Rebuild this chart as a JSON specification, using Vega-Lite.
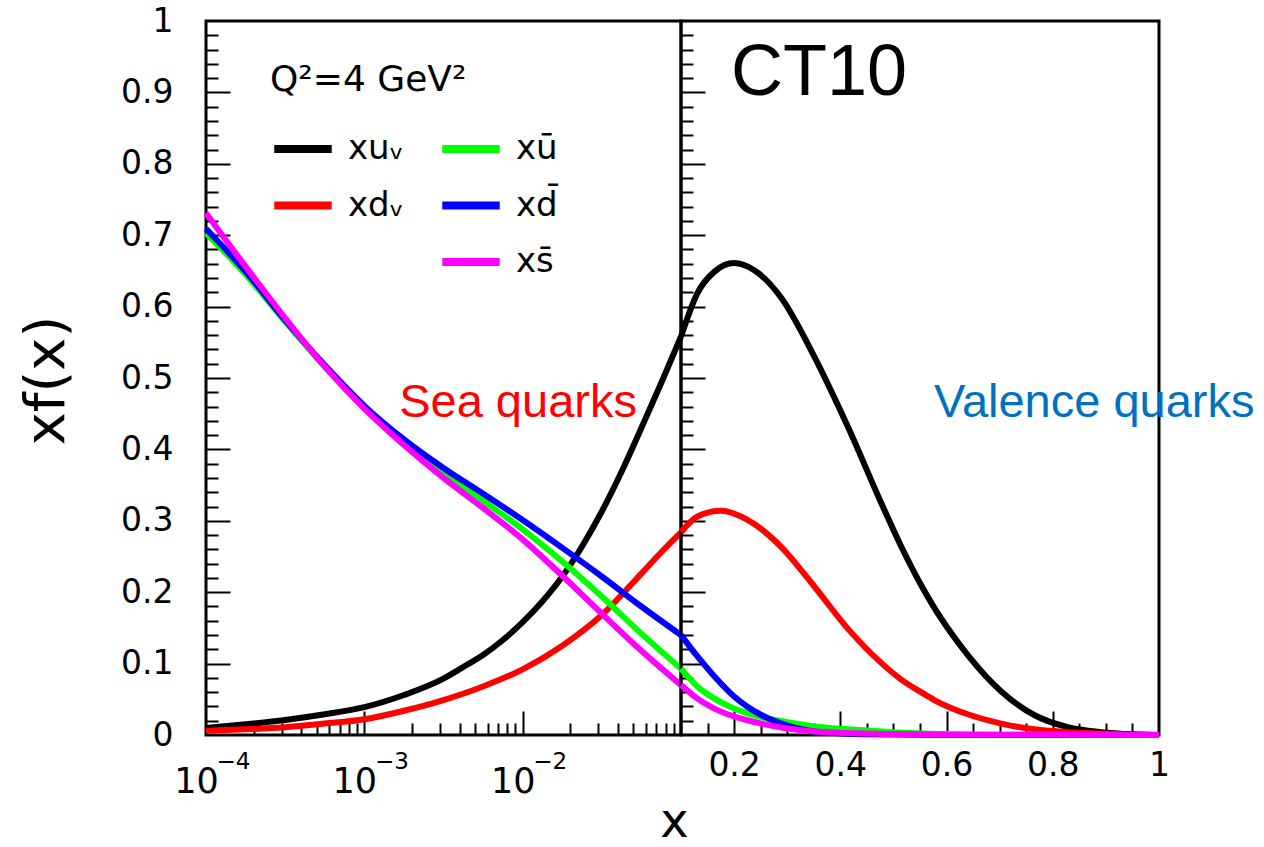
{
  "$schema": "https://vega.github.io/schema/vega-lite/v6.json",
  "background": "white",
  "padding": {"left": 16, "top": 3, "right": 0, "bottom": 0},
  "autosize": {"type": "pad"},
  "config": {
    "view": {"stroke": "#000000", "strokeWidth": 3},
    "font": "DejaVu Sans",
    "axis": {"grid": false, "domain": false, "labelColor": "#000000", "tickColor": "#000000", "titleColor": "#000000", "labelFont": "DejaVu Sans", "titleFont": "DejaVu Sans", "labelFlush": false, "labelOverlap": false, "labelAngle": 0, "tickWidth": 2}
  },
  "datasets": {
    "pdf": [
      {"parton": "xuᵥ", "x": 0.0001, "xf": 0.010},
      {"parton": "xuᵥ", "x": 0.000178, "xf": 0.015},
      {"parton": "xuᵥ", "x": 0.000316, "xf": 0.021},
      {"parton": "xuᵥ", "x": 0.000562, "xf": 0.029},
      {"parton": "xuᵥ", "x": 0.001, "xf": 0.039},
      {"parton": "xuᵥ", "x": 0.00178, "xf": 0.056},
      {"parton": "xuᵥ", "x": 0.00316, "xf": 0.079},
      {"parton": "xuᵥ", "x": 0.0042, "xf": 0.095},
      {"parton": "xuᵥ", "x": 0.00562, "xf": 0.112},
      {"parton": "xuᵥ", "x": 0.0075, "xf": 0.133},
      {"parton": "xuᵥ", "x": 0.01, "xf": 0.158},
      {"parton": "xuᵥ", "x": 0.0133, "xf": 0.187},
      {"parton": "xuᵥ", "x": 0.0178, "xf": 0.222},
      {"parton": "xuᵥ", "x": 0.0237, "xf": 0.264},
      {"parton": "xuᵥ", "x": 0.0316, "xf": 0.313},
      {"parton": "xuᵥ", "x": 0.0422, "xf": 0.369},
      {"parton": "xuᵥ", "x": 0.0562, "xf": 0.430},
      {"parton": "xuᵥ", "x": 0.075, "xf": 0.493},
      {"parton": "xuᵥ", "x": 0.1, "xf": 0.558},
      {"parton": "xuᵥ", "x": 0.131, "xf": 0.619},
      {"parton": "xuᵥ", "x": 0.163, "xf": 0.649},
      {"parton": "xuᵥ", "x": 0.2, "xf": 0.661},
      {"parton": "xuᵥ", "x": 0.238, "xf": 0.651},
      {"parton": "xuᵥ", "x": 0.288, "xf": 0.613},
      {"parton": "xuᵥ", "x": 0.351, "xf": 0.530},
      {"parton": "xuᵥ", "x": 0.414, "xf": 0.432},
      {"parton": "xuᵥ", "x": 0.477, "xf": 0.325},
      {"parton": "xuᵥ", "x": 0.514, "xf": 0.265},
      {"parton": "xuᵥ", "x": 0.552, "xf": 0.210},
      {"parton": "xuᵥ", "x": 0.577, "xf": 0.178},
      {"parton": "xuᵥ", "x": 0.6, "xf": 0.152},
      {"parton": "xuᵥ", "x": 0.64, "xf": 0.112},
      {"parton": "xuᵥ", "x": 0.703, "xf": 0.061},
      {"parton": "xuᵥ", "x": 0.765, "xf": 0.028},
      {"parton": "xuᵥ", "x": 0.828, "xf": 0.011},
      {"parton": "xuᵥ", "x": 0.891, "xf": 0.004},
      {"parton": "xuᵥ", "x": 0.953, "xf": 0.001},
      {"parton": "xuᵥ", "x": 1, "xf": 0},
      {"parton": "xdᵥ", "x": 0.0001, "xf": 0.006},
      {"parton": "xdᵥ", "x": 0.000178, "xf": 0.008},
      {"parton": "xdᵥ", "x": 0.000316, "xf": 0.011},
      {"parton": "xdᵥ", "x": 0.000562, "xf": 0.016},
      {"parton": "xdᵥ", "x": 0.001, "xf": 0.022},
      {"parton": "xdᵥ", "x": 0.00178, "xf": 0.034},
      {"parton": "xdᵥ", "x": 0.00316, "xf": 0.049},
      {"parton": "xdᵥ", "x": 0.00562, "xf": 0.068},
      {"parton": "xdᵥ", "x": 0.01, "xf": 0.092},
      {"parton": "xdᵥ", "x": 0.0178, "xf": 0.125},
      {"parton": "xdᵥ", "x": 0.0316, "xf": 0.168},
      {"parton": "xdᵥ", "x": 0.0562, "xf": 0.226},
      {"parton": "xdᵥ", "x": 0.075, "xf": 0.256},
      {"parton": "xdᵥ", "x": 0.1, "xf": 0.284},
      {"parton": "xdᵥ", "x": 0.131, "xf": 0.306},
      {"parton": "xdᵥ", "x": 0.175, "xf": 0.314},
      {"parton": "xdᵥ", "x": 0.226, "xf": 0.301},
      {"parton": "xdᵥ", "x": 0.288, "xf": 0.264},
      {"parton": "xdᵥ", "x": 0.351, "xf": 0.208},
      {"parton": "xdᵥ", "x": 0.414, "xf": 0.149},
      {"parton": "xdᵥ", "x": 0.477, "xf": 0.101},
      {"parton": "xdᵥ", "x": 0.514, "xf": 0.078},
      {"parton": "xdᵥ", "x": 0.552, "xf": 0.060},
      {"parton": "xdᵥ", "x": 0.577, "xf": 0.049},
      {"parton": "xdᵥ", "x": 0.64, "xf": 0.029},
      {"parton": "xdᵥ", "x": 0.703, "xf": 0.016},
      {"parton": "xdᵥ", "x": 0.765, "xf": 0.008},
      {"parton": "xdᵥ", "x": 0.828, "xf": 0.004},
      {"parton": "xdᵥ", "x": 0.891, "xf": 0.002},
      {"parton": "xdᵥ", "x": 0.953, "xf": 0.0005},
      {"parton": "xdᵥ", "x": 1, "xf": 0},
      {"parton": "xū", "x": 0.0001, "xf": 0.703},
      {"parton": "xū", "x": 0.000178, "xf": 0.645},
      {"parton": "xū", "x": 0.000316, "xf": 0.579},
      {"parton": "xū", "x": 0.000562, "xf": 0.516},
      {"parton": "xū", "x": 0.001, "xf": 0.459},
      {"parton": "xū", "x": 0.00178, "xf": 0.410},
      {"parton": "xū", "x": 0.00316, "xf": 0.367},
      {"parton": "xū", "x": 0.00562, "xf": 0.328},
      {"parton": "xū", "x": 0.01, "xf": 0.288},
      {"parton": "xū", "x": 0.0178, "xf": 0.243},
      {"parton": "xū", "x": 0.0316, "xf": 0.194},
      {"parton": "xū", "x": 0.0562, "xf": 0.142},
      {"parton": "xū", "x": 0.1, "xf": 0.093},
      {"parton": "xū", "x": 0.131, "xf": 0.068},
      {"parton": "xū", "x": 0.163, "xf": 0.051},
      {"parton": "xū", "x": 0.2, "xf": 0.037},
      {"parton": "xū", "x": 0.251, "xf": 0.025},
      {"parton": "xū", "x": 0.301, "xf": 0.018},
      {"parton": "xū", "x": 0.351, "xf": 0.012},
      {"parton": "xū", "x": 0.414, "xf": 0.008},
      {"parton": "xū", "x": 0.5, "xf": 0.004},
      {"parton": "xū", "x": 0.6, "xf": 0.0015},
      {"parton": "xū", "x": 0.7, "xf": 0.0005},
      {"parton": "xū", "x": 1, "xf": 0},
      {"parton": "xd̄", "x": 0.0001, "xf": 0.709},
      {"parton": "xd̄", "x": 0.000178, "xf": 0.649},
      {"parton": "xd̄", "x": 0.000316, "xf": 0.581},
      {"parton": "xd̄", "x": 0.000562, "xf": 0.518},
      {"parton": "xd̄", "x": 0.001, "xf": 0.461},
      {"parton": "xd̄", "x": 0.00178, "xf": 0.414},
      {"parton": "xd̄", "x": 0.00316, "xf": 0.374},
      {"parton": "xd̄", "x": 0.00562, "xf": 0.338},
      {"parton": "xd̄", "x": 0.01, "xf": 0.301},
      {"parton": "xd̄", "x": 0.0178, "xf": 0.262},
      {"parton": "xd̄", "x": 0.0316, "xf": 0.222},
      {"parton": "xd̄", "x": 0.0562, "xf": 0.180},
      {"parton": "xd̄", "x": 0.1, "xf": 0.140},
      {"parton": "xd̄", "x": 0.131, "xf": 0.110},
      {"parton": "xd̄", "x": 0.163, "xf": 0.082},
      {"parton": "xd̄", "x": 0.2, "xf": 0.054},
      {"parton": "xd̄", "x": 0.251, "xf": 0.028},
      {"parton": "xd̄", "x": 0.301, "xf": 0.013},
      {"parton": "xd̄", "x": 0.351, "xf": 0.005},
      {"parton": "xd̄", "x": 0.45, "xf": 0.001},
      {"parton": "xd̄", "x": 0.6, "xf": 0},
      {"parton": "xd̄", "x": 1, "xf": 0},
      {"parton": "xs̄", "x": 0.0001, "xf": 0.731},
      {"parton": "xs̄", "x": 0.000178, "xf": 0.656},
      {"parton": "xs̄", "x": 0.000316, "xf": 0.584},
      {"parton": "xs̄", "x": 0.000562, "xf": 0.516},
      {"parton": "xs̄", "x": 0.001, "xf": 0.457},
      {"parton": "xs̄", "x": 0.00178, "xf": 0.406},
      {"parton": "xs̄", "x": 0.00316, "xf": 0.360},
      {"parton": "xs̄", "x": 0.00562, "xf": 0.318},
      {"parton": "xs̄", "x": 0.01, "xf": 0.274},
      {"parton": "xs̄", "x": 0.0178, "xf": 0.223},
      {"parton": "xs̄", "x": 0.0316, "xf": 0.170},
      {"parton": "xs̄", "x": 0.0562, "xf": 0.118},
      {"parton": "xs̄", "x": 0.1, "xf": 0.070},
      {"parton": "xs̄", "x": 0.131, "xf": 0.051},
      {"parton": "xs̄", "x": 0.163, "xf": 0.037},
      {"parton": "xs̄", "x": 0.2, "xf": 0.026},
      {"parton": "xs̄", "x": 0.251, "xf": 0.016},
      {"parton": "xs̄", "x": 0.301, "xf": 0.009},
      {"parton": "xs̄", "x": 0.351, "xf": 0.005},
      {"parton": "xs̄", "x": 0.45, "xf": 0.002},
      {"parton": "xs̄", "x": 0.6, "xf": 0.0005},
      {"parton": "xs̄", "x": 1, "xf": 0}
    ],
    "notes": [
      {"label": "Sea quarks"},
      {"label": "CT10"},
      {"label": "Valence quarks"}
    ]
  },
  "spacing": 0,
  "bounds": "flush",
  "resolve": {"scale": {"color": "independent"}, "legend": {"color": "independent"}},
  "hconcat": [
    {
      "width": 475,
      "height": 714,
      "resolve": {"axis": {"x": "independent", "y": "independent"}},
      "layer": [
        {
          "data": {"name": "pdf"},
          "transform": [{"filter": "datum.x <= 0.1"}],
          "mark": {"type": "line", "strokeWidth": 6, "interpolate": "monotone"},
          "encoding": {
            "x": {"field": "x", "type": "quantitative", "scale": {"type": "log", "domain": [0.0001, 0.1], "nice": false},
              "axis": {"orient": "bottom", "values": [0.0001, 0.001, 0.01], "labelExpr": "'10'", "ticks": false, "tickSize": 0, "labelFontSize": 35, "labelOffset": -10, "labelPadding": 57, "labelBaseline": "alphabetic", "labelAlign": "center", "title": "x", "titleFontSize": 48, "titleFontWeight": "normal", "titleX": 468, "titleY": 101, "titleBaseline": "alphabetic", "titleAlign": "center"}},
            "y": {"field": "xf", "type": "quantitative", "scale": {"domain": [0, 1], "nice": false},
              "axis": {"orient": "left", "values": [0, 0.1, 0.2, 0.3, 0.4, 0.5, 0.6, 0.7, 0.8, 0.9, 1], "labelExpr": "format(datum.value, '~g')", "ticks": false, "tickSize": 0, "labelFontSize": 33, "labelPadding": 33, "labelBaseline": "middle", "labelAlign": "right", "title": "xf(x)", "titleFontSize": 56, "titleFontWeight": "normal", "titleAngle": -90, "titleX": -160, "titleY": 359, "titleBaseline": "middle", "titleAlign": "center"}},
            "color": {"field": "parton", "type": "nominal",
              "scale": {"domain": ["xuᵥ", "xdᵥ", " ", "xū", "xd̄", "xs̄"], "range": ["#000000", "#ff0000", "rgba(0,0,0,0)", "#00ff00", "#0000ff", "#ff00ff"]},
              "legend": {"title": "Q²=4 GeV²", "orient": "none", "legendX": 64, "legendY": 42, "columns": 2, "symbolType": "stroke", "symbolSize": 3300, "symbolStrokeWidth": 8, "symbolOpacity": 1, "labelFont": "DejaVu Sans", "labelFontSize": 34, "labelColor": "#000000", "labelOffset": 12, "labelLimit": 200, "titleFont": "DejaVu Sans", "titleFontSize": 36, "titleFontWeight": "normal", "titleColor": "#000000", "titleLimit": 500, "titlePadding": 17, "rowPadding": 6.5, "columnPadding": 22, "padding": 0}}
          }
        },
        {
          "data": {"name": "pdf"},
          "transform": [{"filter": "datum.x <= 0.1"}],
          "mark": {"type": "point", "opacity": 0},
          "encoding": {
            "x": {"field": "x", "type": "quantitative", "scale": {"type": "log", "domain": [0.0001, 0.1], "nice": false},
              "axis": {"orient": "bottom", "values": [0.001, 0.01], "labels": false, "tickSize": -24, "title": null}},
            "y": {"field": "xf", "type": "quantitative", "scale": {"domain": [0, 1], "nice": false},
              "axis": {"orient": "left", "values": [0.1, 0.2, 0.3, 0.4, 0.5, 0.6, 0.7, 0.8, 0.9], "labels": false, "tickSize": -24, "title": null}}
          }
        },
        {
          "data": {"name": "pdf"},
          "transform": [{"filter": "datum.x <= 0.1"}],
          "mark": {"type": "point", "opacity": 0},
          "encoding": {
            "x": {"field": "x", "type": "quantitative", "scale": {"type": "log", "domain": [0.0001, 0.1], "nice": false},
              "axis": {"orient": "bottom", "values": [0.0002, 0.0003, 0.0004, 0.0005, 0.0006, 0.0007, 0.0008, 0.0009, 0.002, 0.003, 0.004, 0.005, 0.006, 0.007, 0.008, 0.009, 0.02, 0.03, 0.04, 0.05, 0.06, 0.07, 0.08, 0.09], "labels": false, "tickSize": -12, "title": null}},
            "y": {"field": "xf", "type": "quantitative", "scale": {"domain": [0, 1], "nice": false},
              "axis": {"orient": "left", "values": [0.02, 0.04, 0.06, 0.08, 0.12, 0.14, 0.16, 0.18, 0.22, 0.24, 0.26, 0.28, 0.32, 0.34, 0.36, 0.38, 0.42, 0.44, 0.46, 0.48, 0.52, 0.54, 0.56, 0.58, 0.62, 0.64, 0.66, 0.68, 0.72, 0.74, 0.76, 0.78, 0.82, 0.84, 0.86, 0.88, 0.92, 0.94, 0.96, 0.98], "labels": false, "tickSize": -12, "title": null}}
          }
        },
        {
          "data": {"name": "pdf"},
          "transform": [{"filter": "datum.x <= 0.1"}],
          "mark": {"type": "point", "opacity": 0},
          "encoding": {
            "x": {"field": "x", "type": "quantitative", "scale": {"type": "log", "domain": [0.0001, 0.1], "nice": false},
              "axis": {"orient": "bottom", "values": [0.0001, 0.001, 0.01], "labelExpr": "datum.value < 0.0005 ? '−4' : (datum.value < 0.005 ? '−3' : '−2')", "ticks": false, "tickSize": 0, "labelFontSize": 23, "labelOffset": 27, "labelPadding": 33, "labelBaseline": "alphabetic", "labelAlign": "center", "title": null}},
            "y": {"field": "xf", "type": "quantitative", "scale": {"domain": [0, 1], "nice": false}, "axis": null}
          }
        },
        {
          "data": {"name": "notes"},
          "transform": [{"filter": "datum.label == 'Sea quarks'"}],
          "mark": {"type": "text", "align": "left", "baseline": "alphabetic", "font": "Liberation Sans", "fontSize": 47, "color": "#ff0000"},
          "encoding": {
            "x": {"datum": 0.00166, "type": "quantitative", "scale": {"type": "log", "domain": [0.0001, 0.1], "nice": false}, "axis": null},
            "y": {"datum": 0.4454, "type": "quantitative", "scale": {"domain": [0, 1], "nice": false}, "axis": null},
            "text": {"field": "label"}
          }
        }
      ]
    },
    {
      "width": 478,
      "height": 714,
      "resolve": {"axis": {"x": "independent", "y": "independent"}},
      "layer": [
        {
          "data": {"name": "pdf"},
          "transform": [{"filter": "datum.x >= 0.1"}],
          "mark": {"type": "line", "strokeWidth": 6, "interpolate": "monotone"},
          "encoding": {
            "x": {"field": "x", "type": "quantitative", "scale": {"domain": [0.1, 1], "nice": false, "zero": false},
              "axis": {"orient": "bottom", "values": [0.2, 0.4, 0.6, 0.8, 1], "labelExpr": "format(datum.value, '~g')", "ticks": false, "tickSize": 0, "labelFontSize": 33, "labelPadding": 40, "labelBaseline": "alphabetic", "labelAlign": "center", "title": null}},
            "y": {"field": "xf", "type": "quantitative", "scale": {"domain": [0, 1], "nice": false},
              "axis": {"orient": "left", "values": [0.1, 0.2, 0.3, 0.4, 0.5, 0.6, 0.7, 0.8, 0.9], "labels": false, "tickSize": -24, "title": null}},
            "color": {"field": "parton", "type": "nominal",
              "scale": {"domain": ["xuᵥ", "xdᵥ", " ", "xū", "xd̄", "xs̄"], "range": ["#000000", "#ff0000", "rgba(0,0,0,0)", "#00ff00", "#0000ff", "#ff00ff"]},
              "legend": null}
          }
        },
        {
          "data": {"name": "pdf"},
          "transform": [{"filter": "datum.x >= 0.1"}],
          "mark": {"type": "point", "opacity": 0},
          "encoding": {
            "x": {"field": "x", "type": "quantitative", "scale": {"domain": [0.1, 1], "nice": false, "zero": false},
              "axis": {"orient": "bottom", "values": [0.2, 0.4, 0.6, 0.8], "labels": false, "tickSize": -24, "title": null}},
            "y": {"field": "xf", "type": "quantitative", "scale": {"domain": [0, 1], "nice": false},
              "axis": {"orient": "left", "values": [0.02, 0.04, 0.06, 0.08, 0.12, 0.14, 0.16, 0.18, 0.22, 0.24, 0.26, 0.28, 0.32, 0.34, 0.36, 0.38, 0.42, 0.44, 0.46, 0.48, 0.52, 0.54, 0.56, 0.58, 0.62, 0.64, 0.66, 0.68, 0.72, 0.74, 0.76, 0.78, 0.82, 0.84, 0.86, 0.88, 0.92, 0.94, 0.96, 0.98], "labels": false, "tickSize": -12, "title": null}}
          }
        },
        {
          "data": {"name": "pdf"},
          "transform": [{"filter": "datum.x >= 0.1"}],
          "mark": {"type": "point", "opacity": 0},
          "encoding": {
            "x": {"field": "x", "type": "quantitative", "scale": {"domain": [0.1, 1], "nice": false, "zero": false},
              "axis": {"orient": "bottom", "values": [0.15, 0.25, 0.3, 0.35, 0.45, 0.5, 0.55, 0.65, 0.7, 0.75, 0.85, 0.9, 0.95], "labels": false, "tickSize": -12, "title": null}},
            "y": {"field": "xf", "type": "quantitative", "scale": {"domain": [0, 1], "nice": false}, "axis": null}
          }
        },
        {
          "data": {"name": "notes"},
          "transform": [{"filter": "datum.label == 'CT10'"}],
          "mark": {"type": "text", "align": "left", "baseline": "alphabetic", "font": "Liberation Sans", "fontSize": 72, "color": "#000000"},
          "encoding": {
            "x": {"datum": 0.194, "type": "quantitative", "scale": {"domain": [0.1, 1], "nice": false, "zero": false}, "axis": null},
            "y": {"datum": 0.896, "type": "quantitative", "scale": {"domain": [0, 1], "nice": false}, "axis": null},
            "text": {"field": "label"}
          }
        },
        {
          "data": {"name": "notes"},
          "transform": [{"filter": "datum.label == 'Valence quarks'"}],
          "mark": {"type": "text", "align": "left", "baseline": "alphabetic", "font": "Liberation Sans", "fontSize": 47, "color": "#0070c0"},
          "encoding": {
            "x": {"datum": 0.5764, "type": "quantitative", "scale": {"domain": [0.1, 1], "nice": false, "zero": false}, "axis": null},
            "y": {"datum": 0.4454, "type": "quantitative", "scale": {"domain": [0, 1], "nice": false}, "axis": null},
            "text": {"field": "label"}
          }
        }
      ]
    }
  ]
}
